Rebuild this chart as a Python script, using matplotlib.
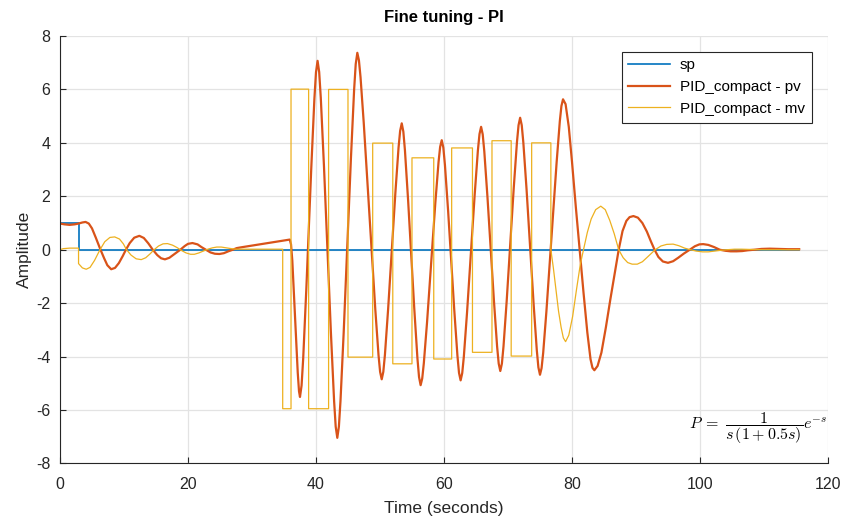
import matplotlib
matplotlib.use("Agg")
import matplotlib.pyplot as plt

plt.rcParams['font.family'] = ['Liberation Sans', 'DejaVu Sans']
plt.rcParams['mathtext.fontset'] = 'cm'
plt.rcParams['axes.unicode_minus'] = False

# set point
sp_t = [0.0, 2.9, 2.9, 115.5]
sp_v = [1.0, 1.0, 0.0, 0.0]

# process value
pv_t = [0.0, 0.7, 1.5, 2.3, 2.9, 3.5, 4.0, 4.5, 5.0, 5.6, 6.3, 6.9, 7.4, 8.0, 8.6, 9.2, 9.8,
        10.3, 10.9, 11.6, 12.4, 13.1, 13.8, 14.5, 15.2, 15.8, 16.4, 17.1, 17.9, 18.8, 19.5,
        20.0, 20.7, 21.5, 22.1, 22.8, 23.5, 24.2, 24.9, 25.6, 26.3, 27.0, 27.6, 28.3,
        35.9, 36.1, 36.3, 36.6, 36.9, 37.15, 37.35, 37.5,
        37.75, 38.0, 38.5, 38.875, 39.25, 39.75, 40.0, 40.25,
        40.5, 40.75, 41.25, 41.79, 42.33, 42.83, 43.08, 43.33,
        43.58, 43.83, 44.33, 44.895, 45.46, 45.96, 46.21, 46.46,
        46.71, 46.96, 47.46, 48.365, 49.27, 49.77, 50.02, 50.27,
        50.52, 50.77, 51.27, 51.835, 52.4, 52.9, 53.15, 53.4,
        53.65, 53.9, 54.4, 54.875, 55.35, 55.85, 56.1, 56.35,
        56.6, 56.85, 57.35, 58.0, 58.65, 59.15, 59.4, 59.65,
        59.9, 60.15, 60.65, 61.125, 61.6, 62.1, 62.35, 62.6,
        62.85, 63.1, 63.6, 64.2, 64.8, 65.3, 65.55, 65.8,
        66.05, 66.3, 66.8, 67.3, 67.8, 68.3, 68.55, 68.8,
        69.05, 69.3, 69.8, 70.35, 70.9, 71.4, 71.65, 71.9,
        72.15, 72.4, 72.9, 73.45, 74.0, 74.5, 74.75, 75.0,
        75.25, 75.5, 76.0, 76.8, 77.6, 78.1, 78.35, 78.6,
        79.0, 79.5, 80.0, 80.6, 81.2, 81.8, 82.4, 82.9, 83.2, 83.5,
        84.0, 84.6, 85.3, 86.0, 86.7, 87.3, 87.9, 88.5, 89.0, 89.6,
        90.3, 91.0, 91.7, 92.3, 92.9, 93.5, 94.2, 95.0, 95.8, 96.6, 97.5, 98.4,
        99.2, 99.9, 100.5, 101.3, 102.2, 103.1, 104.0, 104.8, 105.7, 106.6, 107.5,
        108.5, 109.6, 110.9, 112.3, 113.8, 115.5]
pv_v = [0.98, 0.95, 0.93, 0.95, 0.98, 1.02, 1.04, 0.98, 0.80, 0.45, 0.02, -0.32, -0.58, -0.73, -0.68, -0.50, -0.24,
        0.00, 0.25, 0.45, 0.52, 0.44, 0.24, 0.00, -0.20, -0.32, -0.36, -0.30, -0.16, 0.00, 0.14,
        0.22, 0.25, 0.20, 0.10, 0.00, -0.10, -0.15, -0.16, -0.13, -0.06, 0.00, 0.06, 0.09,
        0.38, 0.20, -0.40, -1.90, -3.40, -4.60, -5.30, -5.51,
        -5.08, -4.08, -1.42, 0.78, 2.98, 5.64, 6.64, 7.07,
        6.65, 5.69, 3.12, 0.02, -3.09, -5.66, -6.62, -7.04,
        -6.62, -5.66, -3.09, 0.17, 3.42, 5.99, 6.95, 7.37,
        7.09, 6.46, 4.76, 1.26, -2.24, -3.94, -4.57, -4.85,
        -4.57, -3.94, -2.23, -0.06, 2.11, 3.82, 4.45, 4.73,
        4.42, 3.72, 1.83, -0.17, -2.17, -4.06, -4.76, -5.07,
        -4.82, -4.25, -2.73, -0.49, 1.76, 3.28, 3.85, 4.10,
        3.82, 3.17, 1.44, -0.40, -2.23, -3.96, -4.61, -4.89,
        -4.62, -4.01, -2.36, -0.15, 2.07, 3.72, 4.33, 4.60,
        4.32, 3.68, 1.95, 0.03, -1.89, -3.62, -4.26, -4.54,
        -4.26, -3.62, -1.91, 0.20, 2.31, 4.02, 4.66, 4.94,
        4.66, 4.01, 2.27, 0.13, -2.01, -3.75, -4.40, -4.68,
        -4.43, -3.86, -2.32, 0.48, 3.27, 4.81, 5.38, 5.63,
        5.45, 4.60, 3.30, 1.60, 0.00, -1.60, -3.10, -4.10, -4.42, -4.51,
        -4.35, -3.85, -2.90, -1.85, -0.85, 0.00, 0.70, 1.08, 1.22, 1.26,
        1.20, 1.00, 0.68, 0.33, 0.00, -0.27, -0.44, -0.49, -0.43, -0.30, -0.14, 0.00,
        0.13, 0.20, 0.21, 0.18, 0.10, 0.00, -0.04, -0.06, -0.06, -0.05, -0.02,
        0.00, 0.03, 0.04, 0.03, 0.02, 0.02]

# manipulated value
mv_t = [0.0, 0.5, 1.5, 2.9, 2.9, 3.5, 4.1, 4.7, 5.4, 6.25, 7.0, 7.8, 8.55, 9.3, 9.9, 10.4,
        11.1, 11.9, 12.7, 13.4, 14.1, 14.7, 15.4, 16.1, 16.8, 17.6, 18.3, 19.0, 19.7, 20.4,
        21.0, 21.7, 22.4, 23.1, 23.8, 24.5, 25.2, 26.0, 26.8, 27.5,
        34.8, 34.8, 36.1, 36.1, 38.85, 38.85, 41.97, 41.97, 45.0, 45.0, 48.86, 48.86,
        52.0, 52.0, 55.0, 55.0, 58.4, 58.4, 61.2, 61.2, 64.45, 64.45, 67.5, 67.5,
        70.5, 70.5, 73.7, 73.7, 76.7, 76.7,
        77.1, 77.5, 77.9, 78.3, 78.65, 79.0, 79.5, 80.1, 80.7, 81.3, 81.8, 82.4, 83.0, 83.7,
        84.5, 85.2, 85.9, 86.6, 87.3, 88.0, 88.7, 89.4, 90.2, 91.0, 91.9, 93.0, 93.9, 94.8,
        95.8, 96.7, 97.6, 98.5, 99.4, 100.4, 101.3, 102.3, 103.3, 104.2, 105.4, 106.5,
        108.0, 110.0, 115.5]
mv_v = [0.0, 0.04, 0.06, 0.06, -0.52, -0.68, -0.73, -0.66, -0.40, 0.00, 0.30, 0.46, 0.48, 0.40, 0.22, 0.00,
        -0.20, -0.34, -0.37, -0.30, -0.15, 0.00, 0.14, 0.22, 0.23, 0.17, 0.08, -0.03, -0.12, -0.17,
        -0.17, -0.12, -0.05, 0.02, 0.07, 0.10, 0.10, 0.07, 0.04, 0.02,
        0.02, -5.95, -5.95, 6.01, 6.01, -5.95, -5.95, 6.00, 6.00, -4.02, -4.02, 3.99,
        3.99, -4.27, -4.27, 3.44, 3.44, -4.09, -4.09, 3.81, 3.81, -3.84, -3.84, 4.08,
        4.08, -3.98, -3.98, 4.00, 4.00, 0.00,
        -0.70, -1.50, -2.30, -2.90, -3.30, -3.44, -3.20, -2.50, -1.50, -0.55, 0.00, 0.65, 1.15, 1.50,
        1.63, 1.50, 1.10, 0.60, 0.00, -0.30, -0.48, -0.54, -0.54, -0.45, -0.25, 0.00, 0.14, 0.20,
        0.21, 0.15, 0.06, 0.00, -0.05, -0.08, -0.08, -0.05, -0.02, 0.00, 0.02, 0.02,
        0.01, 0.00, 0.00]

x_ticks = [0, 20, 40, 60, 80, 100, 120]
y_ticks = [-8, -6, -4, -2, 0, 2, 4, 6, 8]

fig = plt.figure(figsize=(8.46, 5.2), dpi=100)
ax = fig.add_axes([0.0709, 0.1087, 0.9078, 0.8221])

ax.plot(sp_t, sp_v, color='#0072BD', lw=1.2, label='sp')
ax.plot(pv_t, pv_v, color='#D95319', lw=1.6, label='PID_compact - pv')
ax.plot(mv_t, mv_v, color='#EDB120', lw=0.9, label='PID_compact - mv')

ax.set_xlim(0, 120)
ax.set_ylim(-8, 8)
ax.set_xticks(x_ticks)
ax.set_yticks(y_ticks)
ax.grid(True, color='#e3e3e3', lw=0.9)
ax.set_axisbelow(True)
for s in ['top', 'right']:
    ax.spines[s].set_visible(False)
for s in ['left', 'bottom']:
    ax.spines[s].set_color('#262626')
    ax.spines[s].set_linewidth(0.8)
ax.tick_params(direction='in', length=4, width=0.8, colors='#262626', labelsize=11.5)
ax.tick_params(axis='x', pad=10)
ax.tick_params(axis='y', pad=7)

ax.set_title('Fine tuning - PI', fontsize=12, fontweight='bold', pad=10)
ax.set_xlabel('Time (seconds)', fontsize=12.5, color='#262626', labelpad=6)
ax.set_ylabel('Amplitude', fontsize=12.5, color='#262626', labelpad=3)

leg = ax.legend(loc='upper right', bbox_to_anchor=(0.9885, 0.9815), fontsize=11,
                frameon=True, fancybox=False, edgecolor='#262626', framealpha=1,
                handlelength=2.7, borderpad=0.45, labelspacing=0.5, handletextpad=0.65)
leg.get_frame().set_linewidth(0.8)

ax.text(0.999, 0.04, r'$P\;=\;\dfrac{1}{s\,(1+0.5s)}e^{-s}$', transform=ax.transAxes,
        ha='right', va='bottom', fontsize=11.5)

fig.savefig('out.png', dpi=100)
